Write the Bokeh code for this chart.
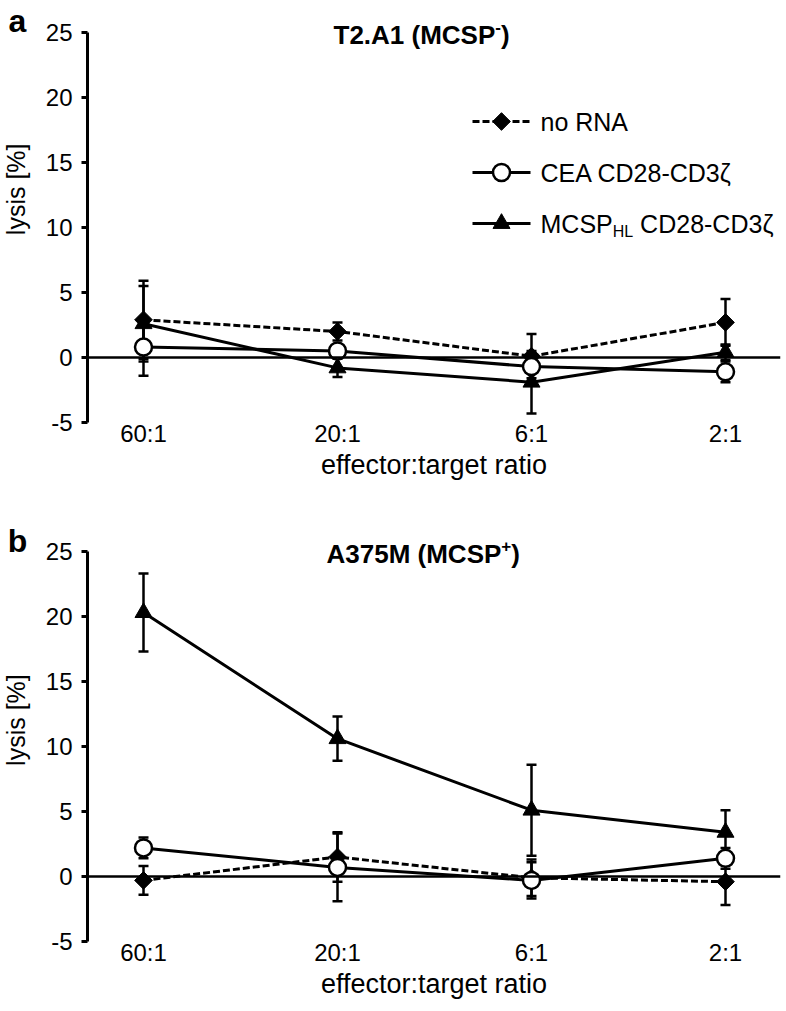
import math
from bokeh.plotting import figure
from bokeh.layouts import column, row
from bokeh.models import (ColumnDataSource, Range1d, FixedTicker, Span, Label,
                          Whisker, TeeHead)
from bokeh.embed import file_html
from bokeh.resources import INLINE

# ---------------- data ----------------
ratios = ["60:1", "20:1", "6:1", "2:1"]
xpos = [0, 1, 2, 3]

a_norna = [2.9, 2.0, 0.1, 2.7]
a_norna_err = [3.0, 0.7, 1.7, 1.8]
a_cea = [0.8, 0.5, -0.7, -1.1]
a_cea_err = [2.2, 0.4, 0.5, 0.8]
a_mcsp = [2.6, -0.8, -1.9, 0.4]
a_mcsp_err = [2.9, 0.7, 2.4, 0.6]

b_norna = [-0.3, 1.5, -0.1, -0.4]
b_norna_err = [1.1, 1.9, 1.4, 1.8]
b_cea = [2.2, 0.7, -0.3, 1.4]
b_cea_err = [0.8, 2.6, 1.4, 0.8]
b_mcsp = [20.3, 10.6, 5.1, 3.4]
b_mcsp_err = [3.0, 1.7, 3.5, 1.7]

y_ticks = [-5, 0, 5, 10, 15, 20, 25]
y_tick_labels = ["-5", "0", "5", "10", "15", "20", "25"]

# ---------------- layout constants ----------------
FONT = "Liberation Sans"
SIDE = 40                 # width of the side strip (panel letter + y label)
BL = 47                   # main figure left border (tick labels)
FW = 693                  # frame width  (87 .. 780)
FT = 4                    # frame top inside figure
FB = 422                  # frame bottom inside figure (y = -5)
FH = FB - FT
PXX = 194.0               # px per category
X0 = -56 / PXX
X1 = X0 + FW / PXX
PXY = 13.0                # px per y unit
Y0 = -5
Y1 = Y0 + FH / PXY
TOP25 = FB - 30 * PXY     # y px of the 25 level

REG = {' ': 278, '(': 333, ')': 333, '-': 333, '.': 278, ':': 278, 'A': 667, 'C': 722,
       'D': 722, 'E': 667, 'H': 722, 'L': 556, 'M': 833, 'N': 722, 'P': 667, 'R': 722,
       'S': 667, 'T': 611, 'n': 556, 'o': 556}
BOLD = {' ': 278, '(': 333, ')': 333, '-': 333, '.': 278, 'A': 722, 'C': 722, 'M': 833,
        'P': 667, 'S': 667, 'T': 611, '+': 584}


def tw(s, size, bold=False):
    t = BOLD if bold else REG
    return sum(t.get(c, 556) for c in s) * size / 1000.0


def fx(px):   # figure px (page px) -> data x
    return X0 + (px - (SIDE + BL)) / PXX


def fy(py):   # figure px from top -> data y
    return Y0 + (FB - py) / PXY


def label(p, x, y, text, size, bold=False, align="left", baseline="middle", angle=0):
    p.add_layout(Label(x=x, y=y, text=text, text_font=FONT, text_font_size=f"{size}px",
                       text_font_style="bold" if bold else "normal", text_color="black",
                       text_align=align, text_baseline=baseline, angle=angle))


def side(letter, h):
    s = figure(width=SIDE, height=h, x_range=Range1d(0, SIDE), y_range=Range1d(h, 0),
               output_backend="svg", toolbar_location=None, min_border=0,
               x_axis_location=None, y_axis_location=None)
    s.outline_line_color = None
    s.grid.visible = False
    label(s, 17, TOP25 - 12, letter, 32, bold=True, align="center")
    cy = TOP25 + (FB - TOP25) * 5 / 12.0
    label(s, 15, cy + 35, "lysis [%]", 25, align="center", angle=math.pi / 2)
    return s


def panel(t_main, t_sup, t_start, norna, norna_err, cea, cea_err, mcsp, mcsp_err,
          h, legend=False):
    p = figure(frame_width=FW, frame_height=FH, x_range=Range1d(X0, X1),
               y_range=Range1d(Y0, Y1), output_backend="svg", toolbar_location=None,
               min_border_left=BL, min_border_right=4, min_border_top=FT,
               min_border_bottom=h - FB)
    p.outline_line_color = None
    p.grid.visible = False

    ya = p.yaxis[0]
    ya.ticker = FixedTicker(ticks=y_ticks)
    ya.major_label_overrides = {t: s for t, s in zip(y_ticks, y_tick_labels)}
    ya.bounds = (-5, 25)
    ya.minor_tick_line_color = None
    ya.axis_line_width = 3
    ya.major_tick_line_width = 3
    ya.major_tick_out = 6
    ya.major_tick_in = 0
    ya.major_label_standoff = 9
    ya.major_label_text_font = FONT
    ya.major_label_text_font_size = "24px"
    ya.major_label_text_color = "black"

    xa = p.xaxis[0]
    xa.ticker = FixedTicker(ticks=xpos)
    xa.major_label_overrides = {i: r for i, r in zip(xpos, ratios)}
    xa.axis_line_color = None
    xa.major_tick_line_color = None
    xa.minor_tick_line_color = None
    xa.major_tick_out = 0
    xa.major_label_standoff = -3
    xa.major_label_text_font = FONT
    xa.major_label_text_font_size = "24px"
    xa.major_label_text_color = "black"
    xa.axis_label = "effector:target ratio"
    xa.axis_label_standoff = 0
    xa.axis_label_text_font = FONT
    xa.axis_label_text_font_size = "27px"
    xa.axis_label_text_font_style = "normal"
    xa.axis_label_text_color = "black"

    p.add_layout(Span(location=0, dimension="width", line_color="black", line_width=2.5))

    for vals, errs in ((norna, norna_err), (cea, cea_err), (mcsp, mcsp_err)):
        src = ColumnDataSource(dict(x=xpos, upper=[v + e for v, e in zip(vals, errs)],
                                    lower=[v - e for v, e in zip(vals, errs)]))
        p.add_layout(Whisker(source=src, base="x", upper="upper", lower="lower",
                             line_color="black", line_width=2.5, level="underlay",
                             upper_head=TeeHead(size=10, line_width=2.5, line_color="black"),
                             lower_head=TeeHead(size=10, line_width=2.5, line_color="black")))

    p.line(xpos, mcsp, line_color="black", line_width=3)
    p.line(xpos, cea, line_color="black", line_width=3)
    p.line(xpos, norna, line_color="black", line_width=3, line_dash="7 3")
    p.scatter(xpos, mcsp, marker="triangle", size=17, fill_color="black", line_color="black")
    p.scatter(xpos, norna, marker="square", angle=math.pi / 4, size=12.5,
              fill_color="black", line_color="black")
    p.scatter(xpos, cea, marker="circle", size=17, fill_color="white", line_color="black",
              line_width=2.5)

    # title with superscript
    ts, ss = 26, 17
    ty = TOP25 + 2
    label(p, fx(t_start), fy(ty), t_main, ts, bold=True)
    w1 = tw(t_main, ts, True)
    label(p, fx(t_start + w1), fy(ty - 8), t_sup, ss, bold=True)
    w2 = tw(t_sup, ss, True)
    label(p, fx(t_start + w1 + w2), fy(ty), ")", ts, bold=True)

    if legend:
        lx0, lx1, mx, txx = 472, 530, 501, 540
        ly = [121, 172, 223]
        ls = 25
        p.line([fx(lx0), fx(lx1)], [fy(ly[0])] * 2, line_color="black", line_width=3,
               line_dash="7 3")
        p.scatter([fx(mx)], [fy(ly[0])], marker="square", angle=math.pi / 4, size=12.5,
                  fill_color="black", line_color="black")
        label(p, fx(txx), fy(ly[0]), "no RNA", ls)
        p.line([fx(lx0), fx(lx1)], [fy(ly[1])] * 2, line_color="black", line_width=3)
        p.scatter([fx(mx)], [fy(ly[1])], marker="circle", size=17, fill_color="white",
                  line_color="black", line_width=2.5)
        label(p, fx(txx), fy(ly[1]), "CEA CD28-CD3ζ", ls)
        p.line([fx(lx0), fx(lx1)], [fy(ly[2])] * 2, line_color="black", line_width=3)
        p.scatter([fx(mx)], [fy(ly[2])], marker="triangle", size=17, fill_color="black",
                  line_color="black")
        label(p, fx(txx), fy(ly[2]), "MCSP", ls)
        wm = tw("MCSP", ls)
        label(p, fx(txx + wm), fy(ly[2] + 8), "HL", 16)
        wh = tw("HL", 16)
        label(p, fx(txx + wm + wh + tw(" ", ls)), fy(ly[2]), "CD28-CD3ζ", ls)
    return p


HA, HB = 519, 488
pa = panel("T2.A1 (MCSP", "-", 333, a_norna, a_norna_err, a_cea, a_cea_err,
           a_mcsp, a_mcsp_err, HA, legend=True)
pb = panel("A375M (MCSP", "+", 326, b_norna, b_norna_err, b_cea, b_cea_err,
           b_mcsp, b_mcsp_err, HB)

layout = column(row(side("a", HA), pa), row(side("b", HB), pb))
open("out.html", "w").write(file_html(layout, INLINE))
